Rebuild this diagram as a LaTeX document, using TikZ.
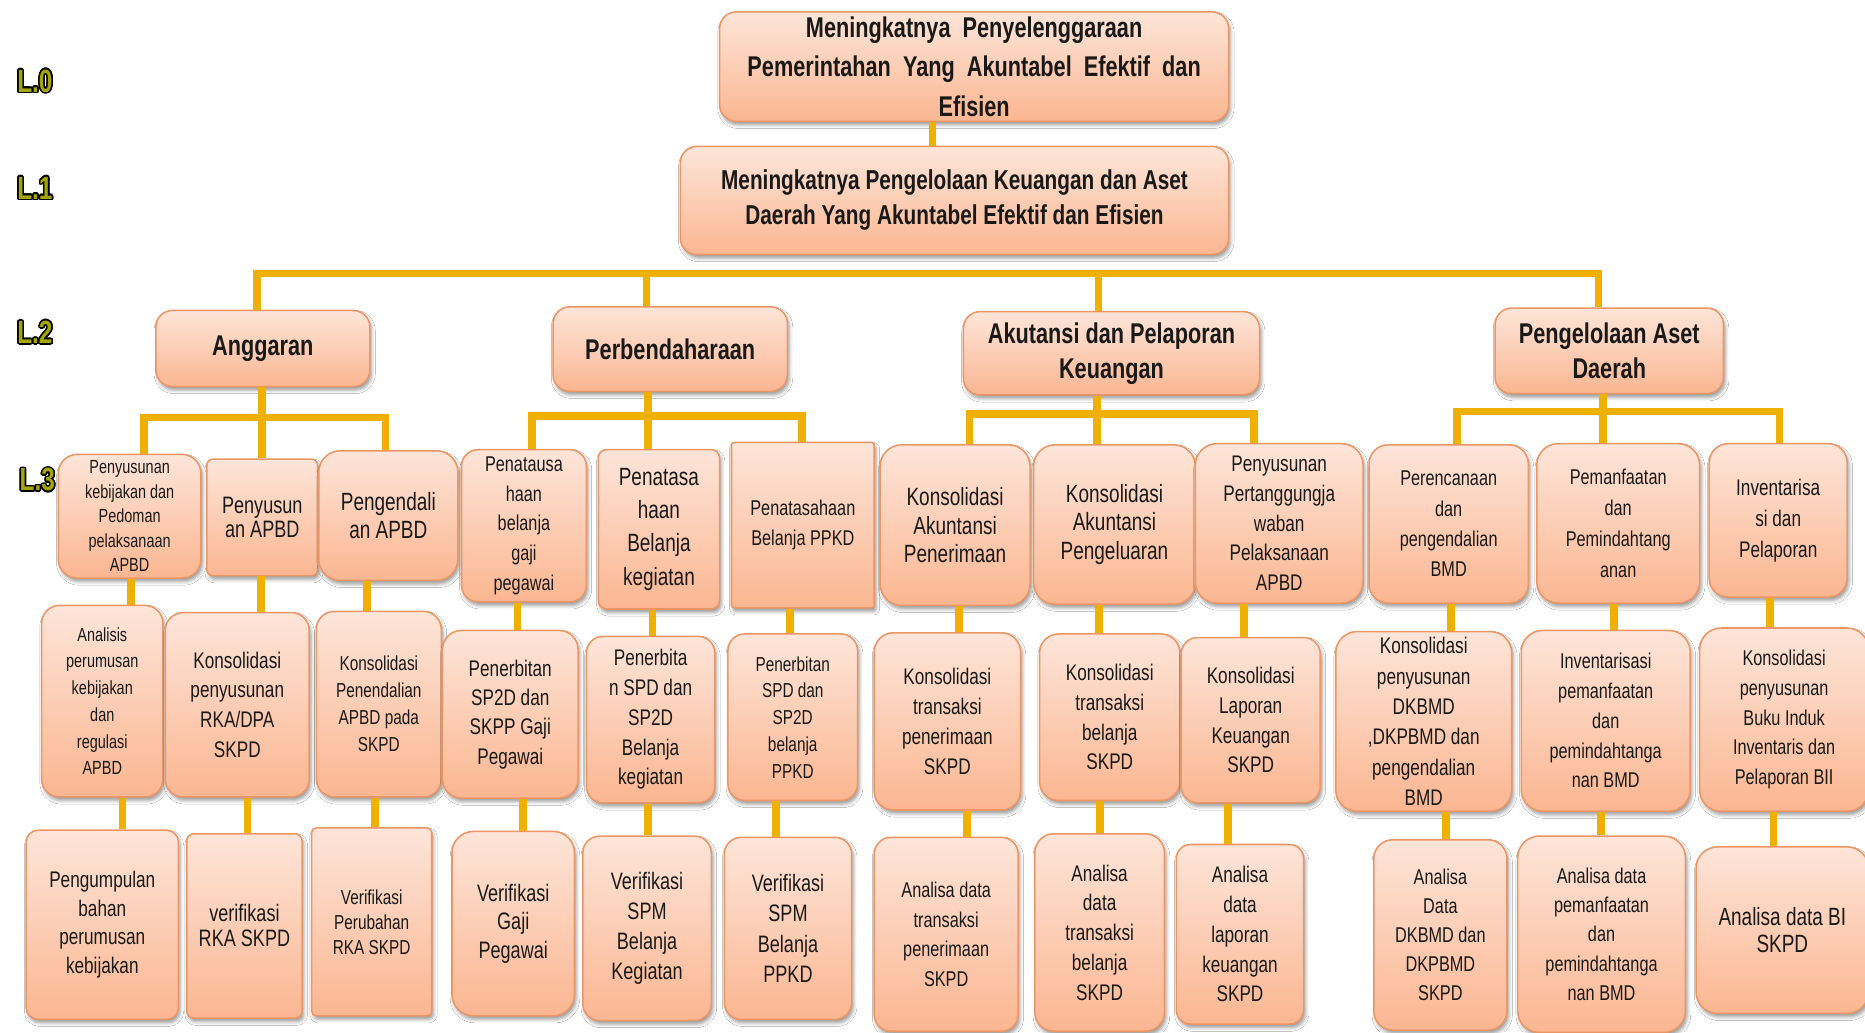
\documentclass[tikz,border=0pt]{standalone}
\usepackage{fontspec}
\setmainfont{Liberation Sans}[FakeStretch=0.76]
\usepackage[copies]{contour}
\contourlength{1.3pt}
\usetikzlibrary{positioning, calc, shadows, shadows.blur}

\definecolor{boxtop}{HTML}{FDE5D9}
\definecolor{boxbot}{HTML}{FBB691}
\definecolor{boxline}{HTML}{EC9665}
\definecolor{linkgold}{HTML}{F0B000}
\definecolor{lvlfill}{HTML}{A6A600}

\begin{document}
\begin{tikzpicture}[x=1pt, y=-1pt, line join=miter]
  % Styles
  \tikzset{
    box/.style={rounded corners=14pt, draw=boxline, line width=1.3pt, top color=boxtop, bottom color=boxbot, align=center, inner sep=1pt, text=black!90, blur shadow={shadow xshift=1.5pt, shadow yshift=-3pt, shadow blur radius=3pt, shadow opacity=40}},
    head/.style={box, font=\bfseries\fontsize{24}{29.5}\selectfont},
    fs/.style 2 args={font=\fontsize{#1}{#2}\selectfont},
    link/.style={draw=linkgold, line width=6.5pt},
    lvl/.style={anchor=west, text=lvlfill, font=\bfseries\fontsize{27}{27}\selectfont}
  }

  \fill[white] (0,0) rectangle (1568,868);
  \useasboundingbox (0,0) rectangle (1568,868);

  % Level labels
  \node[lvl] (l0) at (11,69) {\contour{black}{L.0}};
  \node[lvl] (l1) at (11,159) {\contour{black}{L.1}};
  \node[lvl] (l2) at (11,280) {\contour{black}{L.2}};
  \node[lvl] (l3) at (13,404) {\contour{black}{L.3}};

  % Level 0 and 1
  \node[head, minimum width=428pt, minimum height=92pt, inner ysep=0pt, font=\bfseries\fontsize{24}{33}\selectfont] (tujuan) at (819,56)
    {Meningkatnya~ Penyelenggaraan\\Pemerintahan~ Yang~ Akuntabel~ Efektif~ dan\\Efisien};
  \node[head, minimum width=461pt, minimum height=91pt, font=\bfseries\fontsize{23}{29.5}\selectfont] (sasaran) at (802.5,168.5)
    {Meningkatnya Pengelolaan Keuangan dan Aset\\Daerah Yang Akuntabel Efektif dan Efisien};

  % Level 2
  \node[head, minimum width=180pt, minimum height=64pt] (ang) at (221,293) {Anggaran};
  \node[head, minimum width=197pt, minimum height=71pt] (bend) at (563.5,293.5) {Perbendaharaan};
  \node[head, minimum width=249pt, minimum height=70pt] (akun) at (934.5,297) {Akutansi dan Pelaporan\\Keuangan};
  \node[head, minimum width=192pt, minimum height=72pt] (aset) at (1353,295) {Pengelolaan Aset\\Daerah};

  % Level 3, first row
  \node[box, fs={16}{20.5}, rounded corners=16pt, minimum width=120pt, minimum height=104pt] (a1) at (109,434) {Penyusunan\\kebijakan dan\\Pedoman\\pelaksanaan\\APBD};
  \node[box, fs={20}{20}, rounded corners=5pt, minimum width=93pt, minimum height=98pt] (a2) at (220.5,435) {Penyusun\\an APBD};
  \node[box, fs={21}{23}, rounded corners=18pt, minimum width=117pt, minimum height=109pt] (a3) at (326.5,433.5) {Pengendali\\an APBD};
  \node[box, fs={18}{25}, rounded corners=14pt, minimum width=105pt, minimum height=128pt] (a4) at (440.5,442) {Penatausa\\haan\\belanja\\gaji\\pegawai};
  \node[box, fs={21}{28}, rounded corners=7pt, minimum width=102pt, minimum height=134pt] (a5) at (554,445) {Penatasa\\haan\\Belanja\\kegiatan};
  \node[box, fs={18}{25}, rounded corners=2pt, minimum width=120pt, minimum height=139pt] (a6) at (675,441.5) {Penatasahaan\\Belanja PPKD};
  \node[box, fs={21}{24}, rounded corners=18pt, minimum width=126pt, minimum height=135pt] (a7) at (803,441.5) {Konsolidasi\\Akuntansi\\Penerimaan};
  \node[box, fs={21}{24}, rounded corners=18pt, minimum width=136pt, minimum height=134pt] (a8) at (937,441) {Konsolidasi\\Akuntansi\\Pengeluaran};
  \node[box, fs={19}{25}, rounded corners=18pt, minimum width=141pt, minimum height=134pt] (a9) at (1075.5,440) {Penyusunan\\Pertanggungja\\waban\\Pelaksanaan\\APBD};
  \node[box, fs={18}{25.5}, rounded corners=16pt, minimum width=134pt, minimum height=133pt] (a10) at (1218,440.5) {Perencanaan\\dan\\pengendalian\\BMD};
  \node[box, fs={18}{26}, rounded corners=18pt, minimum width=137pt, minimum height=134pt] (a11) at (1360.5,440) {Pemanfaatan\\dan\\Pemindahtang\\anan};
  \node[box, fs={19}{26}, rounded corners=16pt, minimum width=116pt, minimum height=129pt] (a12) at (1495,437.5) {Inventarisa\\si dan\\Pelaporan};

  % Level 3, second row
  \node[box, fs={16}{22.5}, rounded corners=15pt, minimum width=102pt, minimum height=161pt] (b1) at (86,589.5) {Analisis\\perumusan\\kebijakan\\dan\\regulasi\\APBD};
  \node[box, fs={19}{25}, rounded corners=15pt, minimum width=121pt, minimum height=155pt] (b2) at (199.5,592.5) {Konsolidasi\\penyusunan\\RKA/DPA\\SKPD};
  \node[box, fs={17}{22.7}, rounded corners=15pt, minimum width=105pt, minimum height=156pt] (b3) at (318.5,592) {Konsolidasi\\Penendalian\\APBD pada\\SKPD};
  \node[box, fs={19}{24.7}, rounded corners=16pt, minimum width=114pt, minimum height=141pt] (b4) at (429,600.5) {Penerbitan\\SP2D dan\\SKPP Gaji\\Pegawai};
  \node[box, fs={19}{25}, rounded corners=14pt, minimum width=108pt, minimum height=140pt] (b5) at (547,605) {Penerbita\\n SPD dan\\SP2D\\Belanja\\kegiatan};
  \node[box, fs={17}{22.5}, rounded corners=14pt, minimum width=109pt, minimum height=140pt] (b6) at (666.5,603) {Penerbitan\\SPD dan\\SP2D\\belanja\\PPKD};
  \node[box, fs={19}{25}, rounded corners=16pt, minimum width=123pt, minimum height=149pt] (b7) at (796.5,606.5) {Konsolidasi\\transaksi\\penerimaan\\SKPD};
  \node[box, fs={19}{25}, rounded corners=16pt, minimum width=118pt, minimum height=140pt] (b8) at (933,603) {Konsolidasi\\transaksi\\belanja\\SKPD};
  \node[box, fs={19}{25}, rounded corners=14pt, minimum width=117pt, minimum height=139pt] (b9) at (1051.5,605.5) {Konsolidasi\\Laporan\\Keuangan\\SKPD};
  \node[box, fs={19}{25.5}, rounded corners=18pt, minimum width=148pt, minimum height=151pt] (b10) at (1197,606.5) {Konsolidasi\\penyusunan\\DKBMD\\,DKPBMD dan\\pengendalian\\BMD};
  \node[box, fs={18}{25}, rounded corners=18pt, minimum width=142pt, minimum height=152pt] (b11) at (1350,606) {Inventarisasi\\pemanfaatan\\dan\\pemindahtanga\\nan BMD};
  \node[box, fs={18}{25}, rounded corners=18pt, minimum width=142pt, minimum height=154pt] (b12) at (1500,605) {Konsolidasi\\penyusunan\\Buku Induk\\Inventaris dan\\Pelaporan BII};

  % Level 3, third row
  \node[box, fs={19}{24}, rounded corners=10pt, minimum width=128pt, minimum height=159pt] (c1) at (86,777.5) {Pengumpulan\\bahan\\perumusan\\kebijakan};
  \node[box, fs={20}{21}, rounded corners=6pt, minimum width=97pt, minimum height=155pt] (c2) at (205.5,778.5) {verifikasi\\RKA SKPD};
  \node[box, fs={17}{21}, rounded corners=4pt, minimum width=101pt, minimum height=158pt] (c3) at (312.5,775) {Verifikasi\\Perubahan\\RKA SKPD};
  \node[box, fs={20}{24}, rounded corners=18pt, minimum width=103pt, minimum height=155pt] (c4) at (431.5,776.5) {Verifikasi\\Gaji\\Pegawai};
  \node[box, fs={20}{25.5}, rounded corners=14pt, minimum width=108pt, minimum height=155pt] (c5) at (544,780.5) {Verifikasi\\SPM\\Belanja\\Kegiatan};
  \node[box, fs={20}{25.5}, rounded corners=14pt, minimum width=107pt, minimum height=153pt] (c6) at (662.5,780.5) {Verifikasi\\SPM\\Belanja\\PPKD};
  \node[box, fs={18}{25}, rounded corners=14pt, minimum width=121pt, minimum height=163pt] (c7) at (795.5,785.5) {Analisa data\\transaksi\\penerimaan\\SKPD};
  \node[box, fs={19}{25}, rounded corners=16pt, minimum width=109pt, minimum height=166pt] (c8) at (924.5,784) {Analisa\\data\\transaksi\\belanja\\SKPD};
  \node[box, fs={19}{25}, rounded corners=12pt, minimum width=107pt, minimum height=151pt] (c9) at (1042.5,785.5) {Analisa\\data\\laporan\\keuangan\\SKPD};
  \node[box, fs={18}{24.5}, rounded corners=16pt, minimum width=112pt, minimum height=160pt] (c10) at (1211,786) {Analisa\\Data\\DKBMD dan\\DKPBMD\\SKPD};
  \node[box, fs={18}{24.7}, rounded corners=18pt, minimum width=141pt, minimum height=165pt] (c11) at (1346.5,785.5) {Analisa data\\pemanfaatan\\dan\\pemindahtanga\\nan BMD};
  \node[box, fs={21}{23}, rounded corners=18pt, minimum width=145pt, minimum height=140pt] (c12) at (1498.5,782) {Analisa data BI\\SKPD};

  % Connectors
  \coordinate (bus2) at (0,230);
  \coordinate (busang) at (0,351);
  \coordinate (busbend) at (0,350);
  \coordinate (busakun) at (0,348);
  \coordinate (busaset) at (0,346);

  \draw[link] ([xshift=-35pt]tujuan.south) -- ([xshift=-35pt]tujuan.south |- sasaran.north);

  \draw[link] ([xshift=-5pt]ang.north) |- ([xshift=-9pt]aset.north |- bus2) -- ([xshift=-9pt]aset.north);
  \draw[link] ([xshift=-20pt]bend.north) -- ([xshift=-20pt]bend.north |- bus2);
  \draw[link] ([xshift=-11pt]akun.north) -- ([xshift=-11pt]akun.north |- bus2);

  \draw[link] ([xshift=12pt]a1.north) |- ([xshift=-2.5pt]a3.north |- busang) -- ([xshift=-2.5pt]a3.north);
  \draw[link] ([xshift=-1pt]ang.south) -- ([xshift=-1pt]ang.south |- a2.north);
  \draw[link] ([xshift=6.5pt]a4.north) |- ([xshift=-1pt]a6.north |- busbend) -- ([xshift=-1pt]a6.north);
  \draw[link] ([xshift=-18.5pt]bend.south) -- ([xshift=-18.5pt]bend.south |- a5.north);
  \draw[link] ([xshift=12pt]a7.north) |- ([xshift=-21.5pt]a9.north |- busakun) -- ([xshift=-21.5pt]a9.north);
  \draw[link] ([xshift=-12pt]akun.south) -- ([xshift=-12pt]akun.south |- a8.north);
  \draw[link] ([xshift=7pt]a10.north) |- ([xshift=1pt]a12.north |- busaset) -- ([xshift=1pt]a12.north);
  \draw[link] ([xshift=-5pt]aset.south) -- ([xshift=-5pt]aset.south |- a11.north);

  \foreach \p/\c/\s in {a1/b1/1, a2/b2/-1, a3/b3/-18, a4/b4/-5.5, a5/b5/-5.5, a6/b6/-11, a7/b7/3, a8/b8/-13, a9/b9/-29.5, a10/b10/2, a11/b11/-3.5, a12/b12/-7,
                         b1/c1/17, b2/c2/8.5, b3/c3/-3, b4/c4/11, b5/c5/-2, b6/c6/-14, b7/c7/16.5, b8/c8/-8, b9/c9/-19, b10/c10/19, b11/c11/-4, b12/c12/-9}
    \draw[link] ([xshift=\s pt]\p.south) -- ([xshift=\s pt]\p.south |- \c.north);

\end{tikzpicture}
\end{document}
